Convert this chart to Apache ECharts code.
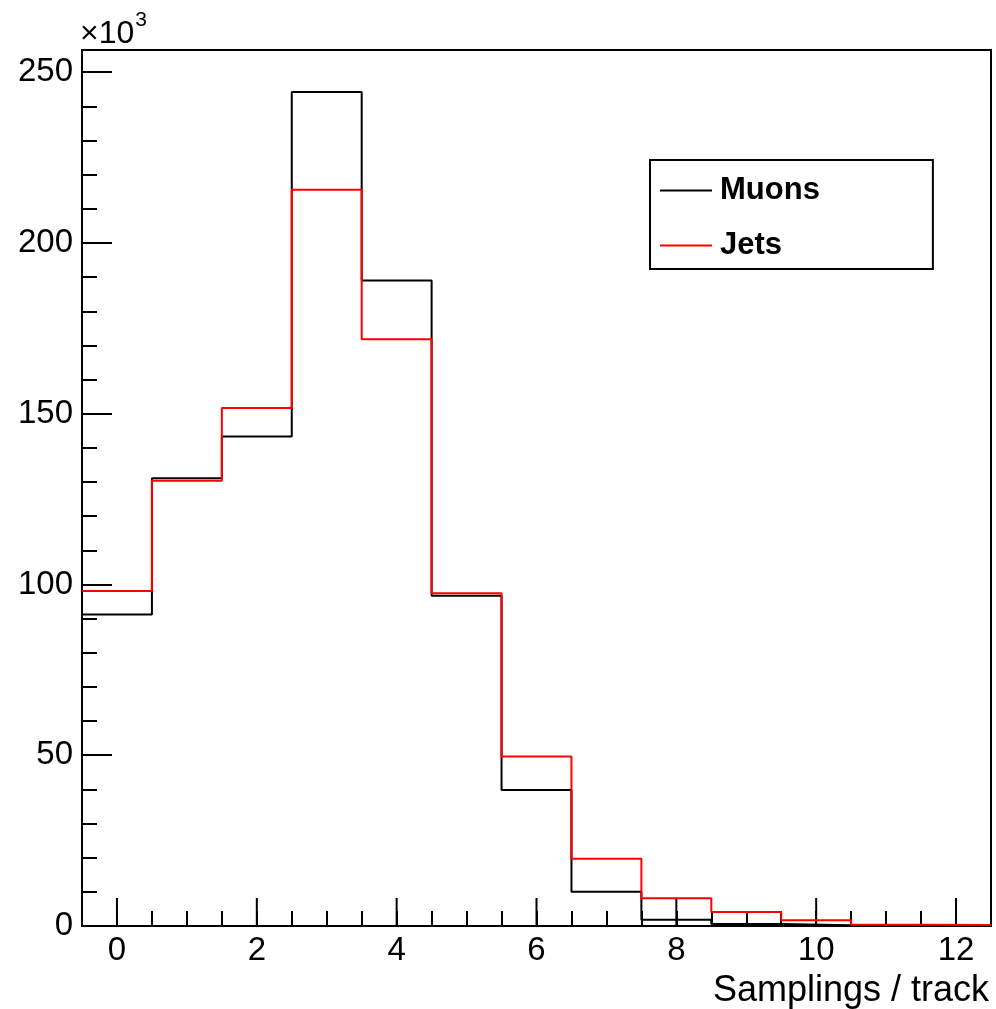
<!DOCTYPE html>
<html>
<head>
<meta charset="utf-8">
<script src="https://cdn.jsdelivr.net/npm/echarts@6/dist/echarts.min.js"></script>
<style>
  html, body { margin: 0; padding: 0; background: #fff; }
  #chart { width: 996px; height: 1009px; }
</style>
</head>
<body>
<div id="chart"></div>
<script>
// bin centres (samplings per track), counts in units of 10^3
const binCenters = [0, 1, 2, 3, 4, 5, 6, 7, 8, 9, 10, 11, 12];
const muons = [91.2, 131.1, 143.3, 244.2, 189.0, 96.7, 39.8, 10.0, 1.8, 0.6, 0.2, 0.05, 0.0];
const jets = [98.1, 130.4, 151.7, 215.6, 171.8, 97.4, 49.6, 19.7, 8.1, 4.1, 1.7, 0.4, 0.3];
const xMajorTicks = [0, 2, 4, 6, 8, 10, 12];
const xLabels = ['0', '2', '4', '6', '8', '10', '12'];

const FONT = "'Liberation Sans', Arial, sans-serif";

// histogram outline: one point per left bin edge, plus the last right edge
const toSteps = vals => {
  const pts = binCenters.map((c, i) => [c - 0.5, vals[i]]);
  pts.push([binCenters[binCenters.length - 1] + 0.5, vals[vals.length - 1]]);
  return pts;
};

const chart = echarts.init(document.getElementById('chart'));

const option = {
  animation: false,
  backgroundColor: '#fff',
  title: {
    text: '{a|×10}{s|3}',
    left: 80,
    top: 10,
    padding: 0,
    textStyle: {
      fontWeight: 'normal',
      fontFamily: FONT,
      rich: {
        a: { fontFamily: FONT, fontSize: 32, fontWeight: 'normal', color: '#000', lineHeight: 40, verticalAlign: 'bottom' },
        s: { fontFamily: FONT, fontSize: 21, fontWeight: 'normal', color: '#000', lineHeight: 40, verticalAlign: 'top', padding: [0, 0, 0, 1] }
      }
    }
  },
  grid: {
    left: 82, right: 5, top: 50, bottom: 81,
    show: true, borderColor: '#000', borderWidth: 2, backgroundColor: 'transparent'
  },
  legend: {
    data: ['Muons', 'Jets'],
    orient: 'vertical',
    left: 650,
    top: 160,
    padding: [15, 113, 8, 10],
    icon: 'rect',
    itemGap: 24,
    itemWidth: 52,
    itemHeight: 2,
    borderColor: '#000',
    borderWidth: 2,
    backgroundColor: '#fff',
    textStyle: { fontFamily: FONT, fontSize: 31, fontWeight: 'bold', color: '#000', lineHeight: 30, padding: [0, 0, 0, 3] }
  },
  xAxis: {
    type: 'value',
    min: -0.5,
    max: 12.5,
    interval: 0.5,
    name: 'Samplings / track',
    nameLocation: 'end',
    nameGap: 0,
    nameTextStyle: {
      fontFamily: FONT, fontSize: 36, color: '#000',
      align: 'right', verticalAlign: 'top', padding: [47, 2, 0, 0]
    },
    axisLine: { show: true, onZero: false, lineStyle: { color: '#000', width: 2 } },
    axisTick: { show: true, inside: true, length: 15, lineStyle: { color: '#000', width: 2 } },
    axisLabel: {
      fontFamily: FONT, fontSize: 33, color: '#000', margin: 8,
      showMinLabel: true, showMaxLabel: false,
      formatter: v => {
        const i = xMajorTicks.indexOf(v);
        return i >= 0 ? xLabels[i] : '';
      }
    },
    splitLine: { show: false }
  },
  yAxis: [
    {
      type: 'value',
      min: 0,
      max: 256.5,
      interval: 10,
      axisLine: { show: true, onZero: false, lineStyle: { color: '#000', width: 2 } },
      axisTick: { show: true, inside: true, length: 15, lineStyle: { color: '#000', width: 2 } },
      axisLabel: { show: false },
      splitLine: { show: false }
    },
    {
      type: 'value',
      position: 'left',
      offset: 0,
      min: 0,
      max: 256.5,
      interval: 50,
      axisLine: { show: false, onZero: false },
      axisTick: { show: true, inside: true, length: 30, lineStyle: { color: '#000', width: 2 } },
      axisLabel: {
        fontFamily: FONT, fontSize: 33, color: '#000', margin: 9,
        showMaxLabel: false
      },
      splitLine: { show: false }
    }
  ],
  series: [
    {
      name: 'Muons',
      type: 'line',
      step: 'end',
      data: toSteps(muons),
      symbol: 'none',
      color: '#000',
      lineStyle: { color: '#000', width: 2 },
      clip: true,
      z: 3
    },
    {
      name: 'Jets',
      type: 'line',
      step: 'end',
      data: toSteps(jets),
      symbol: 'none',
      color: '#ff0000',
      lineStyle: { color: '#ff0000', width: 2 },
      clip: true,
      z: 4
    },
    {
      // long ticks at the labelled x positions
      type: 'custom',
      silent: true,
      data: xMajorTicks.map(v => [v, 0]),
      encode: { x: 0, y: 1 },
      renderItem: (params, api) => {
        const p = api.coord([api.value(0), 0]);
        return {
          type: 'line',
          shape: { x1: p[0], y1: p[1], x2: p[0], y2: p[1] - 28 },
          style: { stroke: '#000', lineWidth: 2 }
        };
      },
      z: 2
    }
  ]
};

chart.setOption(option);
</script>
</body>
</html>
